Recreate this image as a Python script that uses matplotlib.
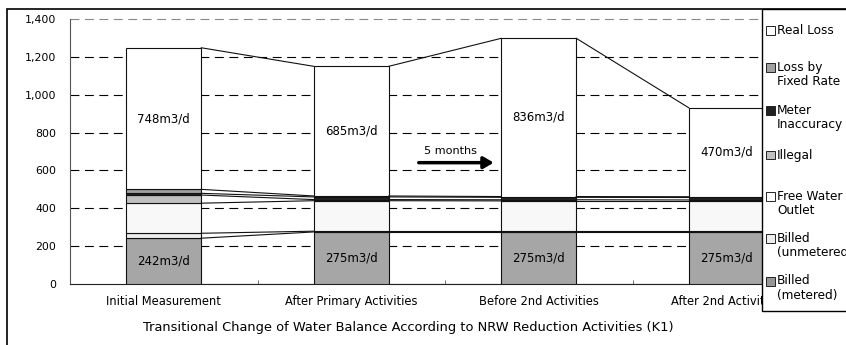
import matplotlib
matplotlib.use("Agg")
import matplotlib.pyplot as plt
from matplotlib.patches import Rectangle
import numpy as np

plt.rcParams['font.family'] = ['DejaVu Sans']

categories = ["Initial Measurement", "After Primary Activities", "Before 2nd Activities", "After 2nd Activities"]
series_names = ["Billed\n(metered)", "Billed\n(unmetered)", "Free Water\nOutlet", "Illegal",
                "Meter\nInaccuracy", "Loss by\nFixed Rate", "Real Loss"]
billed_metered = [242, 275, 275, 275]
billed_unmetered = [26, 4, 4, 4]
free_water = [159, 161, 160, 160]
illegal = [43, 6, 6, 5]
meter_inaccuracy = [9, 14, 13, 13]
fixed_rate = [21, 5, 4, 4]
real_loss = [748, 685, 836, 470]
metered_labels = ["242m3/d", "275m3/d", "275m3/d", "275m3/d"]
real_labels = ["748m3/d", "685m3/d", "836m3/d", "470m3/d"]

series = [billed_metered, billed_unmetered, free_water, illegal, meter_inaccuracy, fixed_rate, real_loss]
colors = ["#a6a6a6", "#eeeeee", "#f8f8f8", "#c0c0c0", "#222222", "#a0a0a0", "#ffffff"]
legend_colors = ["#969696", "#eeeeee", "#ffffff", "#c0c0c0", "#222222", "#a0a0a0", "#ffffff"]

W, H = 846, 345
fig = plt.figure(figsize=(W/100, H/100), dpi=100)
ax = fig.add_axes([70/W, (H-284)/H, 750/W, 265/H])

x = np.arange(len(categories))
bw = 0.4
bottom = np.zeros(len(categories))
tops = []
for vals, c in zip(series, colors):
    vals = np.array(vals, dtype=float)
    ax.bar(x, vals, bw, bottom=bottom, color=c, edgecolor="#111111", linewidth=0.8, zorder=3)
    bottom = bottom + vals
    tops.append(bottom.copy())

# series connecting lines
lines_levels = [np.zeros(len(categories))] + tops
for lev in lines_levels:
    for i in range(len(categories) - 1):
        ax.plot([x[i] + bw/2, x[i+1] - bw/2], [lev[i], lev[i+1]], color="#111111", lw=0.8, zorder=4)

# labels
for i in range(len(categories)):
    ax.text(x[i], billed_metered[i]/2, metered_labels[i], ha="center", va="center", fontsize=8.5, zorder=5)
    base = tops[5][i]
    ax.text(x[i], base + real_loss[i]/2, real_labels[i], ha="center", va="center", fontsize=8.5, zorder=5)

# arrow
ax.annotate("", xy=(1.76, 641), xytext=(1.36, 641),
            arrowprops=dict(arrowstyle="-|>,head_length=0.6,head_width=0.35", color="black", lw=2.5,
                            shrinkA=0, shrinkB=0), zorder=5)
ax.text(1.39, 700, "5 months", fontsize=8.1, ha="left", va="center", zorder=5)

ax.set_xlim(-0.5, 3.5)
ax.set_ylim(0, 1400)
ax.set_yticks(np.arange(0, 1401, 200))
ax.set_yticklabels([f"{v:,}" for v in range(0, 1401, 200)], fontsize=7.9)
ax.set_xticks(x)
ax.set_xticklabels(categories, fontsize=8.3)
ax.tick_params(axis="x", length=0, pad=8)
ax.tick_params(axis="y", length=0, pad=10)
ax.set_xticks([0.5, 1.5, 2.5], minor=True)
ax.tick_params(axis="x", which="minor", direction="in", length=3, color="#555555")

for yv in range(200, 1201, 200):
    ax.axhline(yv, color="black", lw=0.8, ls=(0, (8, 5)), zorder=1)
ax.axhline(1400, color="#888888", lw=0.8, ls=(0, (8, 5)), zorder=1, clip_on=False)

for s in ["top", "right"]:
    ax.spines[s].set_visible(False)
ax.spines["left"].set_color("#555555")
ax.spines["bottom"].set_color("#222222")

fig.text(408/W, 1 - 328/H, "Transitional Change of Water Balance According to NRW Reduction Activities (K1)",
         ha="center", va="center", fontsize=9.4)

# outer frame
fig.patches.append(Rectangle((7/W, -0.1), 1.2, 1 - 9/H + 0.1, transform=fig.transFigure,
                             fill=False, edgecolor="black", lw=1.2, zorder=6))

# legend box
fig.patches.append(Rectangle((762/W, 1 - 311/H), 0.5, (311 - 9)/H, transform=fig.transFigure,
                             facecolor="white", edgecolor="black", lw=1.0, zorder=7))
leg_y = [30, 67, 110, 155, 196, 238, 281]
order = [6, 5, 4, 3, 2, 1, 0]
for yy, idx in zip(leg_y, order):
    fig.patches.append(Rectangle((766/W, 1 - (yy + 4.5)/H), 9/W, 9/H, transform=fig.transFigure,
                                 facecolor=legend_colors[idx], edgecolor="#222222", lw=0.7, zorder=8))
    for k, line in enumerate(series_names[idx].split("\n")):
        fig.text(777/W, 1 - (yy + k*14.5)/H, line, ha="left", va="center", fontsize=8.7, zorder=9)

fig.savefig("out.png", dpi=100)
